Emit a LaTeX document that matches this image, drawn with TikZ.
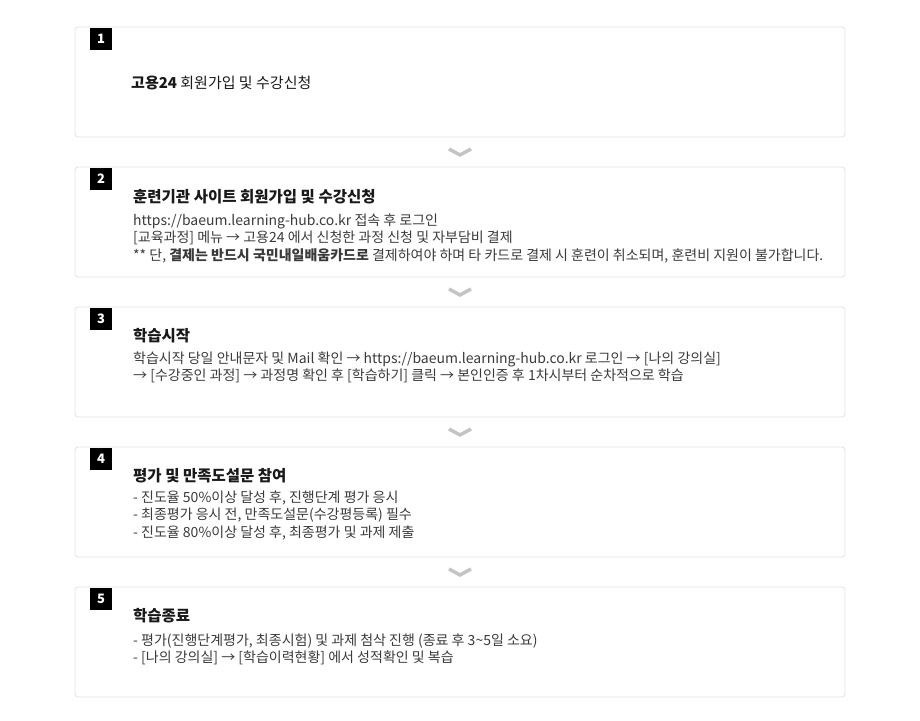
\documentclass[tikz,border=0pt]{standalone}
\usepackage{fontspec}
\setmainfont{Noto Sans CJK KR}
\usepackage{tikz}
\usetikzlibrary{calc}
\definecolor{boxline}{HTML}{E2E2E2}
\definecolor{chev}{HTML}{C4C4C4}
\definecolor{ink}{HTML}{3A3A3A}
\tikzset{every picture/.style={x=1pt, y=-1pt}}
\tikzset{stepbox/.style={draw=boxline, line width=0.8pt, rounded corners=3pt, minimum width=770pt, minimum height=110pt, inner sep=0pt}}
\tikzset{badge/.style={fill=black, text=white, font=\fontsize{13}{13}\selectfont\bfseries, minimum width=22pt, minimum height=22pt, inner sep=0pt}}
\tikzset{steptitle/.style={anchor=west, inner sep=0pt, text=black!90, font=\fontsize{15.5}{18}\selectfont\bfseries}}
\tikzset{stepbody/.style={anchor=north west, inner sep=0pt, align=left, text=ink, font=\fontsize{14}{17.5}\selectfont}}

\begin{document}
\begin{tikzpicture}
\useasboundingbox (0,0) rectangle (920,720);
% boxes and badges
\foreach \i in {1,...,5} {
  \node[stepbox] (s\i) at (460,{82+140*(\i-1)}) {};
  \node[badge] (b\i) at (101,{39+140*(\i-1)}) {\i};
}
% chevrons between the boxes
\foreach \i/\j in {1/2,2/3,3/4,4/5} {
  \coordinate (c\i) at ($(s\i.south)!0.5!(s\j.north)$);
  \draw[chev, line width=3.5pt] ([xshift=-11pt, yshift=3pt]c\i) -- ([yshift=-3pt]c\i) -- ([xshift=11pt, yshift=3pt]c\i);
}
% texts
\node[steptitle, font=\fontsize{15}{18}\selectfont] (t1) at (131,83) {\textbf{고용24} 회원가입 및 수강신청};
\node[steptitle] (t2) at (133,197) {훈련기관 사이트 회원가입 및 수강신청};
\node[stepbody] (d2) at (133,213.5) {https://baeum.learning-hub.co.kr 접속 후 로그인\\
{}[교육과정] 메뉴 → 고용24 에서 신청한 과정 신청 및 자부담비 결제\\
** 단, \textbf{결제는 반드시 국민내일배움카드로} 결제하여야 하며 타 카드로 결제 시 훈련이 취소되며, 훈련비 지원이 불가합니다.};
\node[steptitle] (t3) at (133,336) {학습시작};
\node[stepbody] (d3) at (133,351.5) {학습시작 당일 안내문자 및 Mail 확인 → https://baeum.learning-hub.co.kr 로그인 → [나의 강의실]\\
→ [수강중인 과정] → 과정명 확인 후 [학습하기] 클릭 → 본인인증 후 1차시부터 순차적으로 학습};
\node[steptitle] (t4) at (133,476) {평가 및 만족도설문 참여};
\node[stepbody] (d4) at (133,490.5) {- 진도율 50\%이상 달성 후, 진행단계 평가 응시\\
- 최종평가 응시 전, 만족도설문(수강평등록) 필수\\
- 진도율 80\%이상 달성 후, 최종평가 및 과제 제출};
\node[steptitle] (t5) at (133,616) {학습종료};
\node[stepbody] (d5) at (133,633.5) {- 평가(진행단계평가, 최종시험) 및 과제 첨삭 진행 (종료 후 3\textasciitilde5일 소요)\\
- [나의 강의실] → [학습이력현황] 에서 성적확인 및 복습};
\end{tikzpicture}
\end{document}
